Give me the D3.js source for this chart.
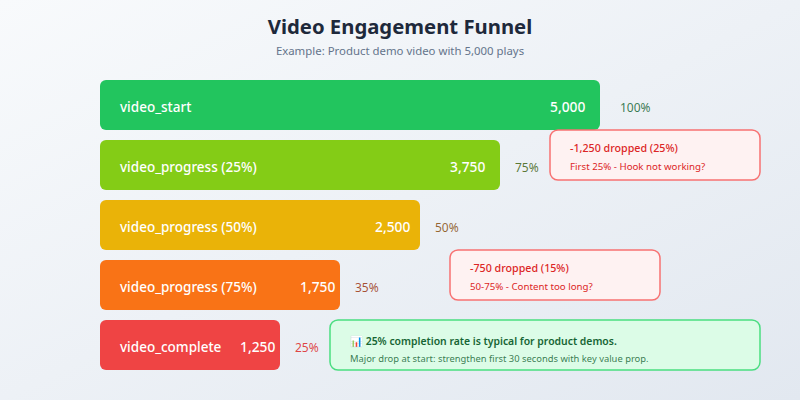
<!DOCTYPE html>
<html><head><meta charset="utf-8">
<script src="https://cdn.jsdelivr.net/npm/d3@7/dist/d3.min.js"></script>
<style>html,body{margin:0;padding:0;background:#fff}svg{display:block}text{font-family:"Noto Sans",sans-serif}</style>
</head><body><div id="c"></div>
<script>
const stages=["video_start","video_progress (25%)","video_progress (50%)","video_progress (75%)","video_complete"];
const plays=[5000,3750,2500,1750,1250];
const percents=["100%","75%","50%","35%","25%"];
const barColors=["#22c55e","#84cc16","#eab308","#f97316","#ef4444"];
const pctColors=["#166534","#3f6212","#854d0e","#9a3412","#dc2626"];
// The reference bars are not proportional to their values: map each value to its drawn width.
const barWidths=[180,240,320,400,500];
const valueInsets=[50,50,45,40,40];
const pctGaps=[20,15,15,15,15];
const W=800,H=400;
const svg=d3.select("#c").append("svg").attr("width",W).attr("height",H);
const defs=svg.append("defs");
const g=defs.append("linearGradient").attr("id","bg").attr("x1","0%").attr("y1","0%").attr("x2","100%").attr("y2","100%");
g.append("stop").attr("offset","0%").attr("stop-color","#f8fafc");
g.append("stop").attr("offset","100%").attr("stop-color","#e2e8f0");
svg.append("rect").attr("width",W).attr("height",H).attr("fill","url(#bg)");
svg.append("text").attr("x",400).attr("y",34).attr("text-anchor","middle").attr("font-size",20.3).attr("font-weight",700).attr("fill","#1e293b").text("Video Engagement Funnel");
svg.append("text").attr("x",400).attr("y",55).attr("text-anchor","middle").attr("font-size",11.4).attr("fill","#64748b").text("Example: Product demo video with 5,000 plays");
const x=d3.scaleLinear().domain([1250,1750,2500,3750,5000]).range(barWidths);
const y=d3.scaleBand().domain(stages).range([80,370]).paddingInner(1/6);
const rows=svg.selectAll("g.row").data(stages).join("g").attr("class","row");
rows.append("rect").attr("x",100).attr("y",d=>y(d)).attr("width",(d,i)=>x(plays[i])).attr("height",y.bandwidth()).attr("rx",6).attr("fill",(d,i)=>barColors[i]);
rows.append("text").attr("x",120).attr("y",d=>y(d)+32).attr("font-size",13.5).attr("font-weight",500).attr("fill","#fff").text(d=>d);
rows.append("text").attr("x",(d,i)=>100+x(plays[i])-valueInsets[i]).attr("y",d=>y(d)+32).attr("font-size",13.8).attr("font-weight",500).attr("fill","#fff").text((d,i)=>d3.format(",")(plays[i]));
rows.append("text").attr("x",(d,i)=>100+x(plays[i])+pctGaps[i]).attr("y",d=>y(d)+32).attr("font-size",12).attr("fill",(d,i)=>pctColors[i]).attr("fill-opacity",0.85).text((d,i)=>percents[i]);
function box(x0,y0,w,h,fill,stroke){svg.append("rect").attr("x",x0).attr("y",y0).attr("width",w).attr("height",h).attr("rx",8).attr("fill",fill).attr("stroke",stroke).attr("stroke-width",1.5);}
function label(x0,y0,s,fs,fw,c,op){svg.append("text").attr("x",x0).attr("y",y0).attr("font-size",fs).attr("font-weight",fw).attr("fill",c).attr("fill-opacity",op||1).text(s);}
box(550,130,210,50,"#fef2f2","#f87171");
label(570,152,"-1,250 dropped (25%)",10.7,500,"#dc2626");
label(570,170,"First 25% - Hook not working?",9.7,400,"#dc2626");
box(450,250,210,50,"#fef2f2","#f87171");
label(470,272,"-750 dropped (15%)",10.7,500,"#dc2626");
label(470,290,"50-75% - Content too long?",9.7,400,"#dc2626");
box(330,320,430,50,"#dcfce7","#4ade80");
label(350,345,"📊 25% completion rate is typical for product demos.",10.4,600,"#166534");
label(350,362,"Major drop at start: strengthen first 30 seconds with key value prop.",9.4,400,"#166534",0.85);
</script></body></html>
